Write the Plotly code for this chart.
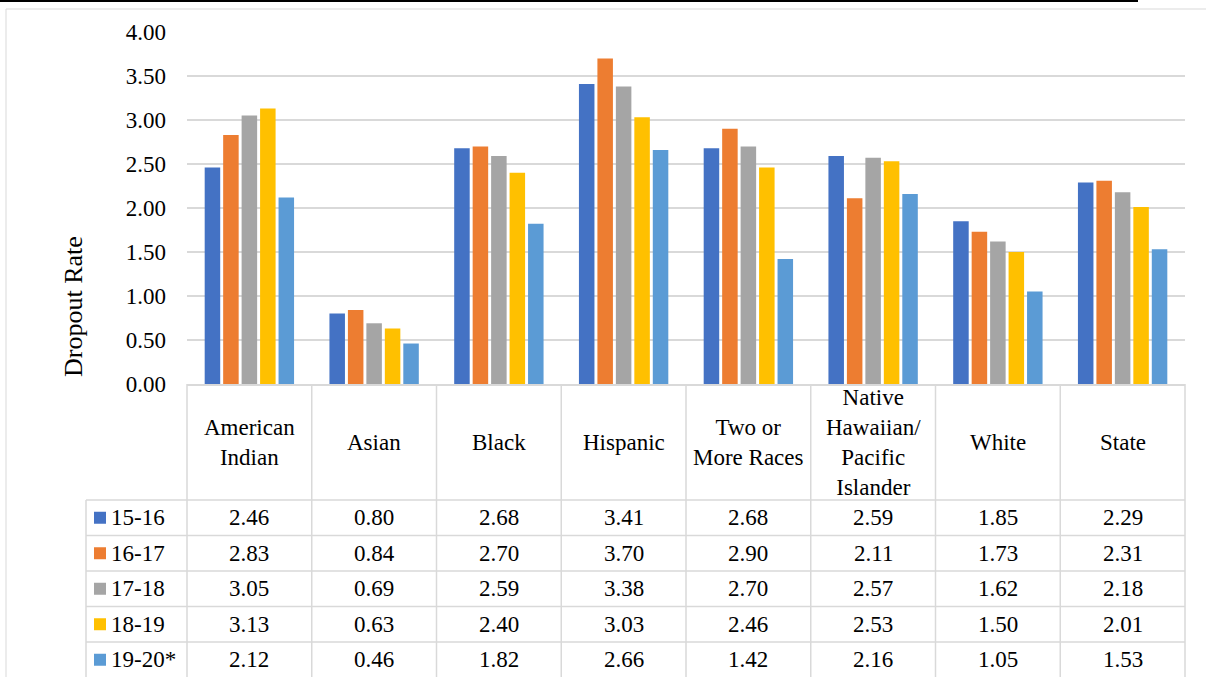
import plotly.graph_objects as go

# ---------------- data ----------------
categories = ["American Indian", "Asian", "Black", "Hispanic", "Two or More Races",
              "Native Hawaiian/ Pacific Islander", "White", "State"]
header_labels = ["American<br>Indian", "Asian", "Black", "Hispanic", "Two or<br>More Races",
                 "Native<br>Hawaiian/<br>Pacific<br>Islander", "White", "State"]
years = ["15-16", "16-17", "17-18", "18-19", "19-20*"]
rate_15_16 = [2.46, 0.80, 2.68, 3.41, 2.68, 2.59, 1.85, 2.29]
rate_16_17 = [2.83, 0.84, 2.70, 3.70, 2.90, 2.11, 1.73, 2.31]
rate_17_18 = [3.05, 0.69, 2.59, 3.38, 2.70, 2.57, 1.62, 2.18]
rate_18_19 = [3.13, 0.63, 2.40, 3.03, 2.46, 2.53, 1.50, 2.01]
rate_19_20 = [2.12, 0.46, 1.82, 2.66, 1.42, 2.16, 1.05, 1.53]
series = [rate_15_16, rate_16_17, rate_17_18, rate_18_19, rate_19_20]
colors = ["#4472C4", "#ED7D31", "#A5A5A5", "#FFC000", "#5B9BD5"]
y_ticks = [0, 0.5, 1.0, 1.5, 2.0, 2.5, 3.0, 3.5, 4.0]

# ---------------- layout geometry (pixels) ----------------
W, H = 1206, 677
PX_L, PX_R = 187, 1185          # plot area left/right
PY_T, PY_B = 32, 384            # plot area top/bottom
LEG_L = 86                      # legend column left edge
ROW_TOP = 500                   # first data row top
ROW_H = 35.5
FONT = "Times New Roman, Liberation Serif, DejaVu Serif, serif"
GRID = "#D9D9D9"
TXT = 23


def xp(px):
    return px / W


def yp(py):
    return 1 - py / H


fig = go.Figure()
for name, vals, col in zip(years, series, colors):
    fig.add_trace(go.Bar(x=categories, y=vals, name=name, marker_color=col,
                         marker_line_width=0, showlegend=False))

ncat = len(categories)
colw = (PX_R - PX_L) / ncat

shapes = []
annotations = []

# top black rule and chart border
shapes.append(dict(type="line", xref="paper", yref="paper", x0=0, x1=xp(1138), y0=yp(1), y1=yp(1),
                   line=dict(color="black", width=2)))
shapes.append(dict(type="line", xref="paper", yref="paper", x0=xp(6), x1=1, y0=yp(9), y1=yp(9),
                   line=dict(color=GRID, width=1)))
shapes.append(dict(type="line", xref="paper", yref="paper", x0=xp(6), x1=xp(6), y0=yp(9), y1=0,
                   line=dict(color=GRID, width=1)))

# table vertical lines
for i in range(ncat + 1):
    x = PX_L + i * colw
    shapes.append(dict(type="line", xref="paper", yref="paper", x0=xp(x), x1=xp(x),
                       y0=yp(PY_B), y1=0, line=dict(color=GRID, width=1.5)))
shapes.append(dict(type="line", xref="paper", yref="paper", x0=xp(LEG_L), x1=xp(LEG_L),
                   y0=yp(ROW_TOP), y1=0, line=dict(color=GRID, width=1.5)))
# table horizontal lines
for r in range(len(years)):
    y = ROW_TOP + r * ROW_H
    shapes.append(dict(type="line", xref="paper", yref="paper", x0=xp(LEG_L), x1=xp(PX_R),
                       y0=yp(y), y1=yp(y), line=dict(color=GRID, width=1.5)))

# header labels
for i, lab in enumerate(header_labels):
    annotations.append(dict(xref="paper", yref="paper", x=xp(PX_L + (i + 0.5) * colw),
                            y=yp((PY_B + ROW_TOP) / 2), text=lab, showarrow=False,
                            xanchor="center", yanchor="middle", align="center",
                            font=dict(family=FONT, size=TXT, color="black")))

# data rows
for r, (name, vals, col) in enumerate(zip(years, series, colors)):
    yc = ROW_TOP + (r + 0.5) * ROW_H
    shapes.append(dict(type="rect", xref="paper", yref="paper", x0=xp(94), x1=xp(106),
                       y0=yp(yc - 6), y1=yp(yc + 6), fillcolor=col, line=dict(width=0)))
    annotations.append(dict(xref="paper", yref="paper", x=xp(109), y=yp(yc), text=name,
                            showarrow=False, xanchor="left", yanchor="middle",
                            font=dict(family=FONT, size=TXT, color="black")))
    for i, v in enumerate(vals):
        annotations.append(dict(xref="paper", yref="paper", x=xp(PX_L + (i + 0.5) * colw), y=yp(yc),
                                text=f"{v:.2f}", showarrow=False, xanchor="center", yanchor="middle",
                                font=dict(family=FONT, size=TXT, color="black")))

# y axis title
annotations.append(dict(xref="paper", yref="paper", x=xp(73), y=yp(307), text="Dropout Rate",
                        textangle=-90, showarrow=False, xanchor="center", yanchor="middle",
                        font=dict(family=FONT, size=26, color="black")))

fig.update_layout(
    width=W, height=H,
    margin=dict(l=0, r=0, t=0, b=0, pad=0, autoexpand=False),
    paper_bgcolor="white", plot_bgcolor="white",
    barmode="group", bargap=0.26, bargroupgap=0.16,
    shapes=shapes, annotations=annotations,
    font=dict(family=FONT, color="black"),
    xaxis=dict(domain=[xp(PX_L), xp(PX_R)], range=[-0.5, ncat - 0.5], showticklabels=False,
               showgrid=False, showline=True, linecolor=GRID, linewidth=1.5, fixedrange=True,
               automargin=False),
    yaxis=dict(domain=[yp(PY_B), yp(PY_T)], range=[0, 4], tickvals=y_ticks, tickformat=".2f",
               showgrid=True, gridcolor=GRID, gridwidth=1.5, zeroline=False, showline=False,
               ticks="", ticklabelstandoff=20, automargin=False,
               tickfont=dict(family=FONT, size=TXT, color="black"), fixedrange=True),
)

fig.write_html("out.html", config={"displayModeBar": False},
               post_script="document.body.style.margin='0';document.body.style.padding='0';")
